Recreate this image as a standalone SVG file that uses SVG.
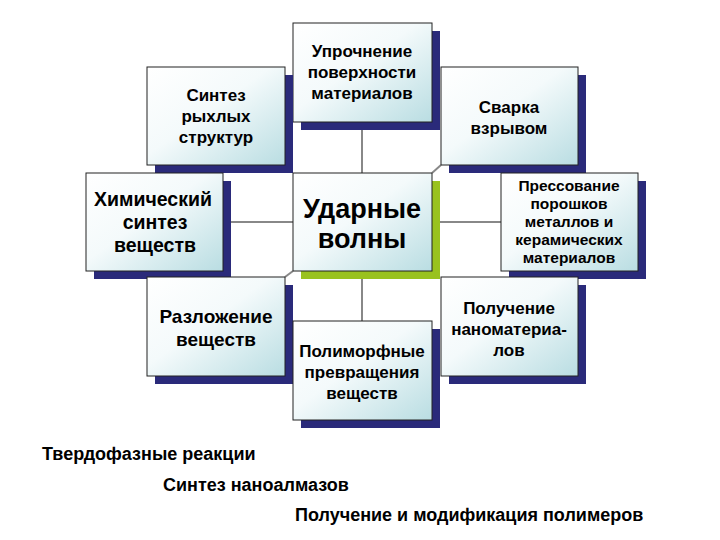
<svg xmlns="http://www.w3.org/2000/svg" width="720" height="540" viewBox="0 0 720 540">
<defs>
<linearGradient id="g" x1="0" y1="0" x2="1" y2="1">
<stop offset="0" stop-color="#ffffff"/><stop offset="0.45" stop-color="#f4fafb"/><stop offset="1" stop-color="#b9dde2"/>
</linearGradient>
<style>
.b{fill:url(#g);stroke:#222;stroke-width:1}
.s{fill:#2a2a7a}
.t{font-family:"Liberation Sans",Arial,sans-serif;font-size:17px;font-weight:bold;fill:#000;text-anchor:middle}
.f{font-family:"Liberation Sans",Arial,sans-serif;font-size:18px;font-weight:bold;fill:#000}
.c{stroke:#888;stroke-width:2;fill:none}
</style>
</defs>
<rect width="720" height="540" fill="#fff"/>
<g id="connectors">
<line class="c" x1="362" y1="122" x2="362" y2="173"/>
<line class="c" x1="362" y1="271" x2="362" y2="321"/>
<line class="c" x1="223" y1="222" x2="293" y2="222"/>
<line class="c" x1="432" y1="222" x2="501" y2="222"/>
<line class="c" x1="441" y1="165" x2="432" y2="173"/>
<line class="c" x1="293" y1="271" x2="285" y2="277"/>
</g>
<g id="n1"><rect class="s" x="301" y="31" width="139" height="99"/><rect class="b" x="293" y="23" width="139" height="99"/>
<text class="t" x="362" y="57">Упрочнение</text><text class="t" x="362" y="78">поверхности</text><text class="t" x="362" y="99">материалов</text></g>
<g id="n2"><rect class="s" x="155" y="75" width="138" height="98"/><rect class="b" x="147" y="67" width="138" height="98"/>
<text class="t" x="216" y="101">Синтез</text><text class="t" x="216" y="122">рыхлых</text><text class="t" x="216" y="143">структур</text></g>
<g id="n3"><rect class="s" x="449" y="75" width="137" height="98"/><rect class="b" x="441" y="67" width="137" height="98"/>
<text class="t" x="509" y="113">Сварка</text><text class="t" x="509" y="134">взрывом</text></g>
<g id="n4"><rect class="s" x="94" y="181" width="137" height="98"/><rect class="b" x="86" y="173" width="137" height="98"/>
<text class="t" x="153" y="206" style="font-size:19.5px">Химический</text><text class="t" x="155" y="229" style="font-size:19.5px">синтез</text><text class="t" x="155" y="252" style="font-size:19.5px">веществ</text></g>
<g id="center"><rect fill="#99c21f" x="301" y="181" width="139" height="98"/><rect class="b" x="293" y="173" width="139" height="98"/>
<text class="t" x="362" y="218" style="font-size:27px">Ударные</text><text class="t" x="362" y="248" style="font-size:27px">волны</text></g>
<g id="n5"><rect class="s" x="509" y="181" width="137" height="98"/><rect class="b" x="501" y="173" width="137" height="98"/>
<text class="t" x="569" y="191" style="font-size:15.5px">Прессование</text><text class="t" x="569" y="209" style="font-size:15.5px">порошков</text><text class="t" x="569" y="227" style="font-size:15.5px">металлов и</text><text class="t" x="569" y="245" style="font-size:15.5px">керамических</text><text class="t" x="569" y="263" style="font-size:15.5px">материалов</text></g>
<g id="n6"><rect class="s" x="155" y="285" width="138" height="99"/><rect class="b" x="147" y="277" width="138" height="99"/>
<text class="t" x="216" y="323" style="font-size:19px">Разложение</text><text class="t" x="216" y="346" style="font-size:19px">веществ</text></g>
<g id="n7"><rect class="s" x="301" y="329" width="139" height="99"/><rect class="b" x="293" y="321" width="139" height="99"/>
<text class="t" x="362" y="357">Полиморфные</text><text class="t" x="362" y="378">превращения</text><text class="t" x="362" y="399">веществ</text></g>
<g id="n8"><rect class="s" x="449" y="285" width="137" height="99"/><rect class="b" x="441" y="277" width="137" height="99"/>
<text class="t" x="509" y="314">Получение</text><text class="t" x="509" y="335">наноматериа-</text><text class="t" x="509" y="356">лов</text></g>
<g id="labels">
<text class="f" x="42" y="460">Твердофазные реакции</text>
<text class="f" x="163" y="491">Синтез наноалмазов</text>
<text class="f" x="295" y="521">Получение и модификация полимеров</text>
</g>
</svg>
